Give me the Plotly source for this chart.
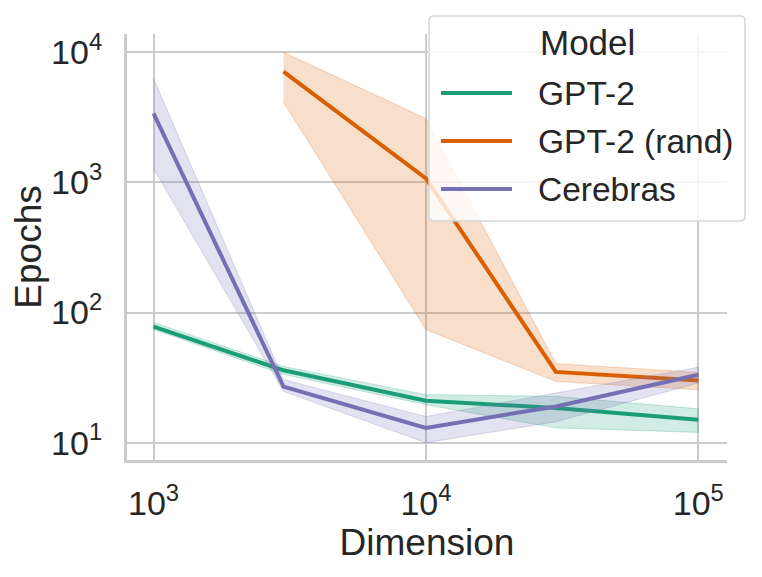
import plotly.graph_objects as go

# ---- data ----
series_names = ["GPT-2", "GPT-2 (rand)", "Cerebras"]
series_colors = ["#1b9e77", "#d95f02", "#7570b3"]
band_colors = ["rgba(27,158,119,0.2)", "rgba(217,95,2,0.2)", "rgba(117,112,179,0.2)"]
edge_colors = ["rgba(27,158,119,0.25)", "rgba(217,95,2,0.25)", "rgba(117,112,179,0.25)"]

gpt2_dims = [1e3, 3e3, 1e4, 3e4, 1e5]
gpt2_mean = [78, 36, 21, 18.5, 15]
gpt2_lo = [74, 33.5, 19.6, 13, 12]
gpt2_hi = [84, 38.5, 23.4, 22.7, 18.2]

rand_dims = [3e3, 1e4, 3e4, 1e5]
rand_mean = [7100, 1075, 35, 30]
rand_lo = [4150, 74, 29.6, 25.5]
rand_hi = [10000, 3100, 40.5, 34.7]

cer_dims = [1e3, 3e3, 1e4, 3e4, 1e5]
cer_mean = [3400, 27, 13, 19, 33.3]
cer_lo = [1280, 24.8, 10, 14.5, 28.8]
cer_hi = [6300, 30.5, 15.9, 24, 38]

x_tickvals = [1e3, 1e4, 1e5]
x_ticktext = ["10<sup>3</sup>", "10<sup>4</sup>", "10<sup>5</sup>"]
y_tickvals = [1e1, 1e2, 1e3, 1e4]
y_ticktext = ["10<sup>1</sup>", "10<sup>2</sup>", "10<sup>3</sup>", "10<sup>4</sup>"]

x_title = "Dimension"
y_title = "Epochs"
legend_title = "Model"

all_series = [
    (gpt2_dims, gpt2_mean, gpt2_lo, gpt2_hi),
    (rand_dims, rand_mean, rand_lo, rand_hi),
    (cer_dims, cer_mean, cer_lo, cer_hi),
]

FONT = "Liberation Sans, Arial, sans-serif"
TXT = "#262626"
GRID = "#cccccc"

fig = go.Figure()
for i, (xs, m, lo, hi) in enumerate(all_series):
    fig.add_trace(go.Scatter(
        x=list(xs) + list(xs)[::-1],
        y=list(hi) + list(lo)[::-1],
        fill="toself", fillcolor=band_colors[i],
        line=dict(width=1, color=edge_colors[i]),
        mode="lines", hoverinfo="skip", showlegend=False,
    ))
    fig.add_trace(go.Scatter(
        x=xs, y=m, mode="lines", name=series_names[i],
        line=dict(color=series_colors[i], width=4),
        showlegend=False,
    ))

# page offset (body margin) and plot area in page pixels: x 127..727, y 34..460
OFF = 8
FW, FH = 762 - OFF, 577 - OFF
L, R, T, B = 127, 727, 34, 460
W, H = R - L, B - T
def px(x):
    return (x - L) / W
def py(y):
    return (B - y) / H

# custom legend box (rounded)
bx0, bx1, by0, by1 = px(429), px(745), py(221), py(16)
rx, ry = 5 / W, 5 / H
path = (f"M{bx0+rx},{by1} L{bx1-rx},{by1} Q{bx1},{by1} {bx1},{by1-ry} "
        f"L{bx1},{by0+ry} Q{bx1},{by0} {bx1-rx},{by0} "
        f"L{bx0+rx},{by0} Q{bx0},{by0} {bx0},{by0+ry} "
        f"L{bx0},{by1-ry} Q{bx0},{by1} {bx0+rx},{by1} Z")
shapes = [dict(type="path", path=path, xref="paper", yref="paper",
               fillcolor="rgba(255,255,255,0.8)",
               line=dict(color="#d6d6d6", width=1.5), layer="above")]
annotations = [dict(text=legend_title, x=px(587), y=py(43), xref="paper", yref="paper",
                    xanchor="center", yanchor="middle", showarrow=False,
                    font=dict(size=35, color=TXT, family=FONT))]
item_y = [93, 141, 189]
for i, name in enumerate(series_names):
    shapes.append(dict(type="line", xref="paper", yref="paper",
                       x0=px(441), x1=px(512), y0=py(item_y[i]), y1=py(item_y[i]),
                       line=dict(color=series_colors[i], width=4), layer="above"))
    annotations.append(dict(text=name, x=px(536), y=py(item_y[i]), xref="paper", yref="paper",
                            xanchor="left", yanchor="middle", showarrow=False,
                            font=dict(size=33.5, color=TXT, family=FONT)))

fig.update_layout(
    width=FW, height=FH,
    margin=dict(l=L - OFF, r=762 - R, t=T - OFF, b=577 - B, autoexpand=False),
    plot_bgcolor="white", paper_bgcolor="white",
    font=dict(family=FONT, color=TXT),
    showlegend=False,
    shapes=shapes, annotations=annotations,
)
fig.update_xaxes(
    type="log", range=[2.9026, 5.1054],
    tickmode="array", tickvals=x_tickvals, ticktext=x_ticktext,
    tickfont=dict(size=34, color=TXT, family=FONT),
    showgrid=True, gridcolor=GRID, gridwidth=2,
    showline=True, linecolor=GRID, linewidth=3,
    ticks="outside", ticklen=11, tickcolor="rgba(0,0,0,0)",
    zeroline=False,
    title=dict(text=x_title, font=dict(size=37, color=TXT, family=FONT), standoff=8),
)
fig.update_yaxes(
    type="log", range=[0.867, 4.1406],
    tickmode="array", tickvals=y_tickvals, ticktext=y_ticktext,
    tickfont=dict(size=34, color=TXT, family=FONT),
    showgrid=True, gridcolor=GRID, gridwidth=2,
    showline=True, linecolor=GRID, linewidth=3,
    ticks="outside", ticklen=15, tickcolor="rgba(0,0,0,0)",
    zeroline=False,
    title=dict(text=y_title, font=dict(size=37, color=TXT, family=FONT), standoff=8),
)

fig.write_html("out.html")
